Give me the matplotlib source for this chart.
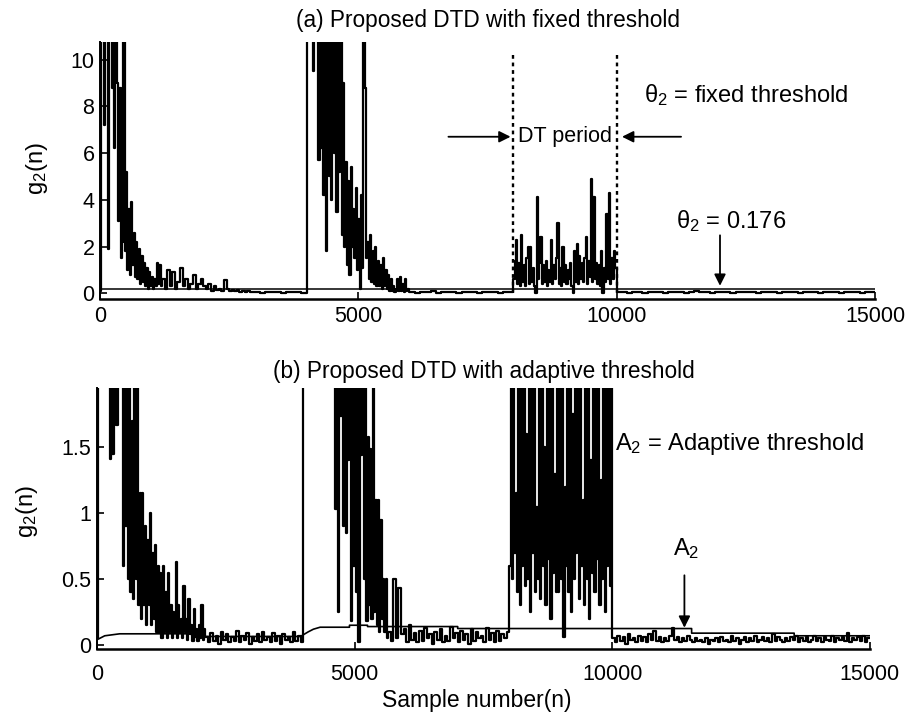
import numpy as np
import matplotlib
matplotlib.use("Agg")
import matplotlib.pyplot as plt

plt.rcParams['font.family'] = ['Liberation Sans', 'DejaVu Sans']
plt.rcParams['mathtext.default'] = 'regular'

N_SAMPLES = 15000
THETA2 = 0.176   # fixed threshold

# ---- (a) g2(n) with fixed threshold, sample segments (start, step, values) ----
a_onset = [0.1, 15, 13, 7.2, 14, 12, 1.9, 14, 12, 8.8, 13, 6.2, 11, 9.0, 3.1, 8.8,
           1.5, 2.2, 13, 1.8]
a_decay = [5.2, 1.0, 3.6, 0.8, 3.9, 1.2, 2.6, 0.7, 2.2, 0.6, 1.9, 0.4, 1.6, 0.5,
           1.3, 0.3, 1.1, 0.2, 0.9, 0.3, 0.7, 0.2, 0.6, 0.3, 1.3, 0.4, 1.2, 0.3]
a_tail = [0.6, 0.2, 1.0, 0.3, 0.9, 0.2, 0.5, 1.1, 0.3, 0.6, 0.2, 0.4, 0.8, 0.2,
          0.4, 0.6, 0.3, 0.2, 0.4, 0.1, 0.3, 0.15, 0.2, 0.1, 0.55, 0.2, 0.1, 0.15,
          0.08, 0.12, 0.05, 0.1, 0.06, 0.08, 0.04, 0.06]
a_quiet1 = [0.05, 0.03, 0.06, 0.04, 0.05, 0.03, 0.05, 0.04, 0.06, 0.03]
a_echo = [14, 13, 15, 12, 14, 9.5, 13, 12, 14, 5.7, 12, 6.2, 13, 4.2, 12, 1.8,
          13, 5.0, 12, 4.0, 13, 6.0, 12, 3.5, 11, 5.2, 12, 2.5, 9.0, 2.0, 5.6, 1.2,
          4.8, 0.8, 5.4, 2.0, 3.6, 1.5, 4.5, 1.0, 3.2, 0.2, 4.2, 1.1, 13, 8.8, 1.5, 2.2]
a_echo_tail = [0.6, 2.5, 0.5, 1.8, 0.4, 2.0, 0.3, 1.4, 0.3, 1.2, 0.2, 1.5, 0.3, 1.0,
               0.2, 0.8, 0.1, 0.6, 0.1, 0.3, 0.05, 0.2, 0.6, 0.1, 0.7, 0.1, 0.4, 0.05,
               0.6, 0.1, 0.2, 0.05]
a_quiet2 = [0.05, 0.03, 0.06, 0.04, 0.08, 0.03, 0.05, 0.04, 0.06, 0.03,
            0.05, 0.04, 0.07, 0.03, 0.05, 0.04, 0.06, 0.03, 0.05, 0.04]
a_dt = [0.6, 1.4, 2.3, 0.4, 1.3, 0.3, 2.5, 0.5, 1.2, 0.3, 1.5, 2.0, 0.4, 2.0, 0.5, 1.1,
        0.3, 0.0, 4.1, 0.6, 1.3, 2.4, 0.4, 1.2, 0.5, 1.4, 0.3, 1.0, 0.5, 2.3, 0.4, 1.2,
        0.6, 1.5, 3.0, 0.4, 1.1, 0.3, 2.0, 0.5, 1.2, 0.4, 1.0, 0.6, 1.3, 0.3, 0.0, 1.8,
        0.5, 2.1, 0.4, 1.6, 0.6, 1.3, 0.5, 1.5, 2.4, 0.4, 1.4, 0.7, 4.9, 0.5, 4.1, 0.6,
        1.3, 0.4, 1.2, 0.3, 1.8, 0.0, 1.1, 0.5, 3.4, 0.6, 4.3, 0.4, 1.5, 0.6, 1.8, 1.1]
a_quiet3 = [0.04, 0.06, 0.03, 0.05, 0.07, 0.03, 0.05, 0.04, 0.06, 0.03,
            0.05, 0.04, 0.06, 0.03, 0.05, 0.08, 0.04, 0.05, 0.03, 0.06,
            0.04, 0.05, 0.03, 0.06, 0.04, 0.05, 0.07, 0.03, 0.05, 0.04,
            0.06, 0.03, 0.05, 0.04, 0.06, 0.03, 0.05, 0.04, 0.07, 0.03,
            0.05, 0.04, 0.06, 0.03, 0.05, 0.04, 0.06, 0.03, 0.05, 0.04]

# ---- (b) g2(n) with adaptive threshold ----
b_onset = [0.05, 3.0, 2.9, 3.1, 2.8, 3.0, 2.9, 3.1, 3.0, 2.8, 1.41, 3.0, 1.45, 2.9,
           3.1, 1.67, 3.0, 2.8, 3.1, 2.5]
b_decay = [0.6, 2.5, 0.9, 2.6, 0.5, 2.4, 0.4, 1.7, 0.35, 2.4, 0.5, 2.1, 0.3, 1.15,
           0.2, 1.15, 0.3, 0.9, 0.15, 0.8, 0.3, 1.0, 0.15, 0.7, 0.2, 0.76, 0.1, 0.6]
b_tail = [0.1, 0.55, 0.05, 0.6, 0.1, 0.4, 0.05, 0.55, 0.1, 0.3, 0.05, 0.25, 0.1,
          0.63, 0.05, 0.3, 0.1, 0.2, 0.05, 0.45, 0.1, 0.2, 0.04, 0.35, 0.08, 0.15,
          0.03, 0.27, 0.06, 0.12, 0.03, 0.15, 0.05, 0.3, 0.04, 0.12]
b_quiet1 = [0.06, 0.02, 0.09, 0.03, 0.07, 0.01, 0.1, 0.04, 0.08, 0.02,
            0.06, 0.03, 0.11, 0.02, 0.07, 0.04, 0.09, 0.01, 0.06, 0.03,
            0.08, 0.02, 0.1, 0.04, 0.06, 0.02, 0.09, 0.03, 0.07, 0.01,
            0.08, 0.04, 0.06, 0.02, 0.1, 0.03, 0.07, 0.02]
b_echo = [3.0, 2.9, 3.1, 2.8, 3.0, 2.7, 3.2, 2.9, 3.0, 2.8, 3.1, 2.9, 3.0, 2.7,
          3.1, 2.8, 3.0, 2.9, 3.2, 2.8, 3.0, 2.9, 3.1, 2.7, 3.0,
          1.03, 2.9, 0.25, 3.0, 1.74, 2.8, 0.9, 3.1, 0.85, 2.9, 1.4, 3.0, 0.18, 2.8,
          0.6, 3.1, 0.4, 2.9, 0.02, 3.0, 1.44, 2.8, 0.5, 3.1, 0.18, 1.58, 0.3, 1.49,
          0.2, 2.6, 0.25, 1.1, 0.15, 1.1, 0.1, 0.95, 0.2, 0.5, 0.1, 0.5, 0.05]
b_quiet2 = [0.1, 0.03, 0.5, 0.05, 0.43, 0.08, 0.12, 0.02, 0.15, 0.04,
            0.09, 0.02, 0.11, 0.03, 0.13, 0.05, 0.08, 0.01, 0.1, 0.04,
            0.12, 0.02, 0.07, 0.03, 0.14, 0.05, 0.09, 0.02, 0.11, 0.04,
            0.08, 0.01, 0.12, 0.03, 0.1, 0.05, 0.07, 0.02, 0.13, 0.04,
            0.09, 0.02, 0.11, 0.03, 0.08, 0.05, 0.1]
b_dt = [0.6, 3.0, 0.5, 2.9, 0.7, 1.15, 0.4, 3.1, 0.3, 2.8, 0.6, 3.0, 0.45, 1.6,
        0.5, 3.0, 0.25, 2.9, 0.7, 3.1, 0.4, 1.05, 0.5, 3.0, 0.35, 2.8, 0.6, 1.5,
        0.3, 3.1, 0.65, 2.9, 0.2, 3.0, 0.55, 1.3, 0.4, 2.8, 0.4, 3.0, 0.5, 3.1,
        0.06, 1.2, 0.6, 2.9, 0.4, 3.0, 0.25, 1.75, 0.5, 3.0, 0.7, 2.8, 0.35, 3.1,
        0.6, 1.1, 0.3, 2.9, 0.5, 3.0, 0.2, 1.4, 0.55, 3.1, 0.4, 2.8, 0.65, 3.0,
        0.3, 1.25, 0.5, 2.9, 0.25, 3.0, 0.6, 3.1, 0.45, 2.8]
b_quiet3 = [0.05, 0.02, 0.07, 0.03, 0.06, 0.01, 0.08, 0.04, 0.05, 0.02,
            0.07, 0.03, 0.06, 0.02, 0.08, 0.04, 0.11, 0.03, 0.06, 0.02,
            0.05, 0.03, 0.07, 0.13, 0.04, 0.06, 0.02, 0.05, 0.03, 0.07,
            0.04, 0.02, 0.05, 0.03, 0.04, 0.02, 0.05, 0.01, 0.04, 0.03,
            0.05, 0.02, 0.06, 0.03, 0.04, 0.02, 0.07, 0.03, 0.05, 0.01,
            0.04, 0.06, 0.02, 0.05, 0.03, 0.07, 0.02, 0.04, 0.06, 0.03,
            0.05, 0.02, 0.08, 0.03, 0.06, 0.04, 0.02, 0.05, 0.03, 0.06,
            0.04, 0.07, 0.02, 0.05, 0.03, 0.06, 0.02, 0.04, 0.07, 0.03,
            0.05, 0.02, 0.06, 0.04, 0.03, 0.07, 0.02, 0.05, 0.04, 0.06,
            0.03, 0.09, 0.02, 0.05, 0.04, 0.06, 0.03, 0.07, 0.02, 0.05]

# adaptive threshold A2 (breakpoints)
a2_n = [0, 150, 440, 2100, 2100, 3950, 4100, 4200, 4330, 4900, 4900, 5250, 5250,
        7000, 7000, 11540, 11540, 13530, 13530, 15000]
a2_val = [0.04, 0.07, 0.085, 0.085, 0.065, 0.065, 0.10, 0.12, 0.135, 0.135, 0.15,
          0.15, 0.14, 0.14, 0.125, 0.125, 0.09, 0.09, 0.07, 0.07]


def build(segments):
    xs, ys = [], []
    for start, step, vals in segments:
        xs.append(start + step * np.arange(len(vals)))
        ys.append(np.asarray(vals, dtype=float))
    x = np.concatenate(xs + [np.array([N_SAMPLES])])
    y = np.concatenate(ys + [ys[-1][-1:]])
    return x, y


na, ga = build([(0, 25, a_onset), (500, 25, a_decay), (1200, 50, a_tail),
                (3000, 100, a_quiet1), (4000, 25, a_echo), (5200, 25, a_echo_tail),
                (6000, 100, a_quiet2), (8000, 25, a_dt), (10000, 100, a_quiet3)])
nb, gb = build([(0, 25, b_onset), (500, 25, b_decay), (1200, 25, b_tail),
                (2100, 50, b_quiet1), (4000, 25, b_echo), (5650, 50, b_quiet2),
                (8000, 25, b_dt), (10000, 50, b_quiet3)])

fig = plt.figure(figsize=(9.09, 7.19), dpi=100)
ax1 = fig.add_axes([0.110, 0.584, 0.8526, 0.3574])
ax2 = fig.add_axes([0.1067, 0.0974, 0.8503, 0.363])

for ax in (ax1, ax2):
    ax.spines['top'].set_visible(False)
    ax.spines['right'].set_visible(False)
    ax.spines['left'].set_linewidth(1.4)
    ax.spines['bottom'].set_linewidth(1.8)
    ax.set_xlim(0, N_SAMPLES)
    ax.set_xticks([0, 5000, 10000, 15000])
    ax.tick_params(direction='in', length=5, width=1.2, labelsize=15.5)

# --- (a) fixed threshold ---
ax1.plot(na, ga, color='black', lw=1.6, drawstyle='steps-post')
ax1.plot([0, N_SAMPLES], [THETA2, THETA2], color='black', lw=1.1)
ax1.set_ylim(-0.25, 10.75)
ax1.set_yticks([0, 2, 4, 6, 8, 10])
ax1.tick_params(axis='x', pad=5)
ax1.tick_params(axis='y', pad=4)

for n in (8000, 10000):
    ax1.plot([n, n], [0, 10.2], color='black', lw=1.7, linestyle=(0, (1.6, 1.6)))
ax1.text(9000, 6.7, 'DT period', ha='center', va='center', fontsize=15.5)
arrow = dict(arrowstyle='-|>', color='black', lw=1.3, mutation_scale=17)
ax1.annotate('', xy=(8000, 6.7), xytext=(6690, 6.7), arrowprops=arrow)
ax1.annotate('', xy=(10050, 6.7), xytext=(11300, 6.7), arrowprops=arrow)
ax1.text(10520, 8.5, r'$θ_2$ = fixed threshold', ha='left', va='center', fontsize=17)
ax1.text(11140, 3.1, r'$θ_2$ = 0.176', ha='left', va='center', fontsize=17)
ax1.annotate('', xy=(12000, 0.2), xytext=(12000, 2.6), arrowprops=arrow)

# --- (b) adaptive threshold ---
ax2.plot(nb, gb, color='black', lw=1.6, drawstyle='steps-post')
ax2.plot(a2_n, a2_val, color='black', lw=1.2)
ax2.set_ylim(-0.03, 1.95)
ax2.set_yticks([0, 0.5, 1, 1.5])
ax2.set_yticklabels(['0', '0.5', '1', '1.5'])
ax2.tick_params(axis='x', pad=11)
ax2.tick_params(axis='y', pad=4)
ax2.text(10060, 1.525, r'$A_2$ = Adaptive threshold', ha='left', va='center', fontsize=17)
ax2.text(11170, 0.73, r'$A_2$', ha='left', va='center', fontsize=17)
ax2.annotate('', xy=(11400, 0.11), xytext=(11400, 0.55), arrowprops=arrow)

fig.text(0.537, 0.971, '(a) Proposed DTD with fixed threshold', ha='center',
         va='center', fontsize=16.3)
fig.text(0.532, 0.484, '(b) Proposed DTD with adaptive threshold', ha='center',
         va='center', fontsize=16.3)
fig.text(0.0407, 0.765, r'$g_2$(n)', rotation=90, ha='center', va='center', fontsize=17)
fig.text(0.0297, 0.288, r'$g_2$(n)', rotation=90, ha='center', va='center', fontsize=17)
fig.text(0.525, 0.026, 'Sample number(n)', ha='center', va='center', fontsize=16.5)

fig.savefig('out.png', dpi=100)
